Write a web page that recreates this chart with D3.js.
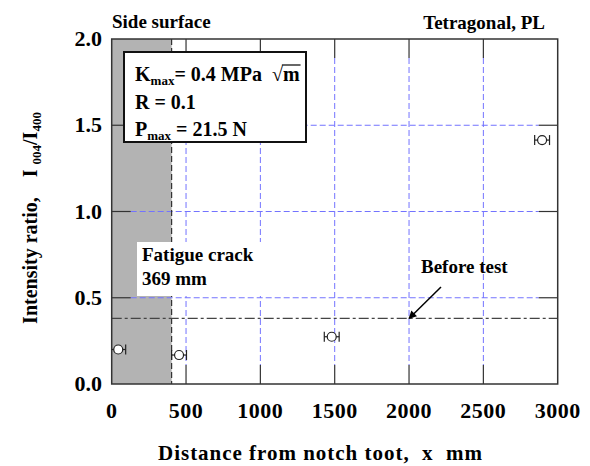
<!DOCTYPE html>
<html lang="en">
  <head>
    <meta charset="UTF-8" />
    <title>Intensity ratio vs distance from notch root</title>
    <style>
      body { margin: 0; background: white; }
      svg { display: block; font-family: "Liberation Serif", "DejaVu Serif", serif; font-weight: bold; }
    </style>
  </head>
  <body>
    <svg width="590" height="466"></svg>

    <script src="https://d3js.org/d3.v7.min.js"></script>
    <script>
      // data
      const distance = [44, 453, 1480, 2895];
      const ratio = [0.2, 0.168, 0.274, 1.414];
      const xErr = [50, 50, 50, 50];
      const xTicks = [0, 500, 1000, 1500, 2000, 2500, 3000];
      const yTicks = [0.0, 0.5, 1.0, 1.5, 2.0];
      const crackEnd = 403;
      const beforeTest = 0.38;
      const legendLines = ["R = 0.1"];

      const svg = d3.select("svg");
      const x = d3.scaleLinear().domain([0, 3000]).range([111.7, 557.7]);
      const y = d3.scaleLinear().domain([0, 2]).range([384, 39]);
      const [x0, x1] = x.range();
      const [y0, y1] = y.range();
      const tickLen = 19;

      // shaded side surface region
      svg.append("rect")
        .attr("x", x(0)).attr("y", y1)
        .attr("width", x(crackEnd) - x(0)).attr("height", y0 - y1)
        .attr("fill", "#b3b3b3");

      // blue dashed grid
      const grid = svg.append("g")
        .attr("stroke", "#7373ff").attr("stroke-width", 1)
        .attr("stroke-dasharray", "6,3");
      grid.selectAll(".gx")
        .data(xTicks.slice(1, -1))
        .join("line")
        .attr("x1", (d) => x(d)).attr("x2", (d) => x(d))
        .attr("y1", y1 + tickLen).attr("y2", y0 - tickLen);
      grid.selectAll(".gy")
        .data(yTicks.slice(1, -1))
        .join("line")
        .attr("y1", (d) => y(d)).attr("y2", (d) => y(d))
        .attr("x1", x0 + tickLen).attr("x2", x1 - tickLen);

      // crack tip dashed line
      svg.append("line")
        .attr("x1", x(crackEnd)).attr("x2", x(crackEnd))
        .attr("y1", y1).attr("y2", y0)
        .attr("stroke", "#333").attr("stroke-width", 1.2)
        .attr("stroke-dasharray", "6,3");

      // before test level
      svg.append("line")
        .attr("x1", x0).attr("x2", x1)
        .attr("y1", y(beforeTest)).attr("y2", y(beforeTest))
        .attr("stroke", "#444").attr("stroke-width", 1.2)
        .attr("stroke-dasharray", "10,3,3,3");

      // inward ticks on all four sides
      const ticks = svg.append("g").attr("stroke", "#333").attr("stroke-width", 1.2);
      xTicks.slice(1, -1).forEach((t) => {
        ticks.append("line").attr("x1", x(t)).attr("x2", x(t)).attr("y1", y0).attr("y2", y0 - tickLen);
        ticks.append("line").attr("x1", x(t)).attr("x2", x(t)).attr("y1", y1).attr("y2", y1 + tickLen);
      });
      yTicks.slice(1, -1).forEach((t) => {
        ticks.append("line").attr("y1", y(t)).attr("y2", y(t)).attr("x1", x0).attr("x2", x0 + tickLen);
        ticks.append("line").attr("y1", y(t)).attr("y2", y(t)).attr("x1", x1).attr("x2", x1 - tickLen);
      });

      // frame
      svg.append("rect")
        .attr("x", x0).attr("y", y1)
        .attr("width", x1 - x0).attr("height", y0 - y1)
        .attr("fill", "none").attr("stroke", "#333").attr("stroke-width", 1.5);

      // tick labels
      svg.append("g")
        .selectAll("text")
        .data(xTicks)
        .join("text")
        .attr("x", (d) => x(d)).attr("y", 418)
        .attr("text-anchor", "middle")
        .attr("font-size", 22).attr("letter-spacing", 0.5)
        .text((d) => d);
      svg.append("g")
        .selectAll("text")
        .data(yTicks)
        .join("text")
        .attr("x", 102).attr("y", (d) => y(d) + 7)
        .attr("text-anchor", "end")
        .attr("font-size", 22)
        .text((d) => d.toFixed(1));

      // axis titles
      svg.append("text")
        .attr("x", 158).attr("y", 460)
        .attr("font-size", 21)
        .attr("textLength", 324).attr("lengthAdjust", "spacing")
        .attr("xml:space", "preserve")
        .text("Distance from notch toot,  x  mm");

      const yt = svg.append("text")
        .attr("transform", "translate(37,218) rotate(-90)")
        .attr("text-anchor", "middle").attr("font-size", 20)
        .attr("xml:space", "preserve");
      yt.append("tspan").text("Intensity ratio,    I ");
      yt.append("tspan").attr("font-size", 13).attr("dy", 4).text("004");
      yt.append("tspan").attr("dy", -4).text("/I");
      yt.append("tspan").attr("font-size", 13).attr("dy", 4).text("400");

      // top labels
      svg.append("text").attr("x", 112).attr("y", 28)
        .attr("font-size", 19).text("Side surface");
      svg.append("text").attr("x", 545).attr("y", 29).attr("text-anchor", "end")
        .attr("font-size", 19).text("Tetragonal, PL");

      // condition box
      svg.append("rect")
        .attr("x", 124).attr("y", 52).attr("width", 182).attr("height", 90)
        .attr("fill", "white").attr("stroke", "#111").attr("stroke-width", 2);
      const k = svg.append("text").attr("x", 135).attr("y", 81)
        .attr("font-size", 20).attr("xml:space", "preserve");
      k.append("tspan").text("K");
      k.append("tspan").attr("font-size", 13).attr("dy", 4).text("max");
      k.append("tspan").attr("dy", -4).text("= 0.4 MPa  √");
      k.append("tspan").text("m");
      svg.append("text").attr("x", 135).attr("y", 109)
        .attr("font-size", 20).text(legendLines[0]);
      const p = svg.append("text").attr("x", 135).attr("y", 136)
        .attr("font-size", 20).attr("xml:space", "preserve");
      p.append("tspan").text("P");
      p.append("tspan").attr("font-size", 13).attr("dy", 4).text("max");
      p.append("tspan").attr("dy", -4).text(" = 21.5 N");
      // overline of the square root
      const kn = k.node();
      const mStart = kn.getStartPositionOfChar(kn.getNumberOfChars() - 1);
      const mEnd = kn.getEndPositionOfChar(kn.getNumberOfChars() - 1);
      svg.append("line")
        .attr("x1", mStart.x - 1).attr("x2", mEnd.x + 1)
        .attr("y1", 65).attr("y2", 65)
        .attr("stroke", "black").attr("stroke-width", 1.2);

      // fatigue crack label
      svg.append("rect")
        .attr("x", 137).attr("y", 242).attr("width", 125).attr("height", 54)
        .attr("fill", "white");
      svg.append("text").attr("x", 142).attr("y", 261)
        .attr("font-size", 19).text("Fatigue crack");
      svg.append("text").attr("x", 142).attr("y", 285)
        .attr("font-size", 19).text("369 mm");

      // before test annotation
      svg.append("text").attr("x", 421).attr("y", 273)
        .attr("font-size", 19).text("Before test");
      svg.append("defs").append("marker")
        .attr("id", "arrow").attr("viewBox", "0 0 10 10")
        .attr("refX", 9).attr("refY", 5)
        .attr("markerWidth", 9).attr("markerHeight", 8)
        .attr("markerUnits", "userSpaceOnUse")
        .attr("orient", "auto")
        .append("path").attr("d", "M0,0 L10,5 L0,10 z").attr("fill", "black");
      svg.append("line")
        .attr("x1", 441).attr("y1", 287)
        .attr("x2", x(2000)).attr("y2", y(beforeTest))
        .attr("stroke", "black").attr("stroke-width", 1.5)
        .attr("marker-end", "url(#arrow)");

      // data points with horizontal error bars
      const pts = svg.append("g").attr("stroke", "#222").attr("stroke-width", 1.2);
      distance.forEach((d, i) => {
        const cx = x(d), cy = y(ratio[i]);
        const lo = x(d - xErr[i]), hi = x(d + xErr[i]);
        pts.append("line").attr("x1", Math.max(lo, x0)).attr("x2", hi).attr("y1", cy).attr("y2", cy);
        if (lo > x0 + 1) pts.append("line").attr("x1", lo).attr("x2", lo).attr("y1", cy - 5).attr("y2", cy + 5);
        pts.append("line").attr("x1", hi).attr("x2", hi).attr("y1", cy - 5).attr("y2", cy + 5);
        pts.append("circle").attr("cx", cx).attr("cy", cy).attr("r", 4.5).attr("fill", "white");
      });
    </script>
  </body>
</html>
